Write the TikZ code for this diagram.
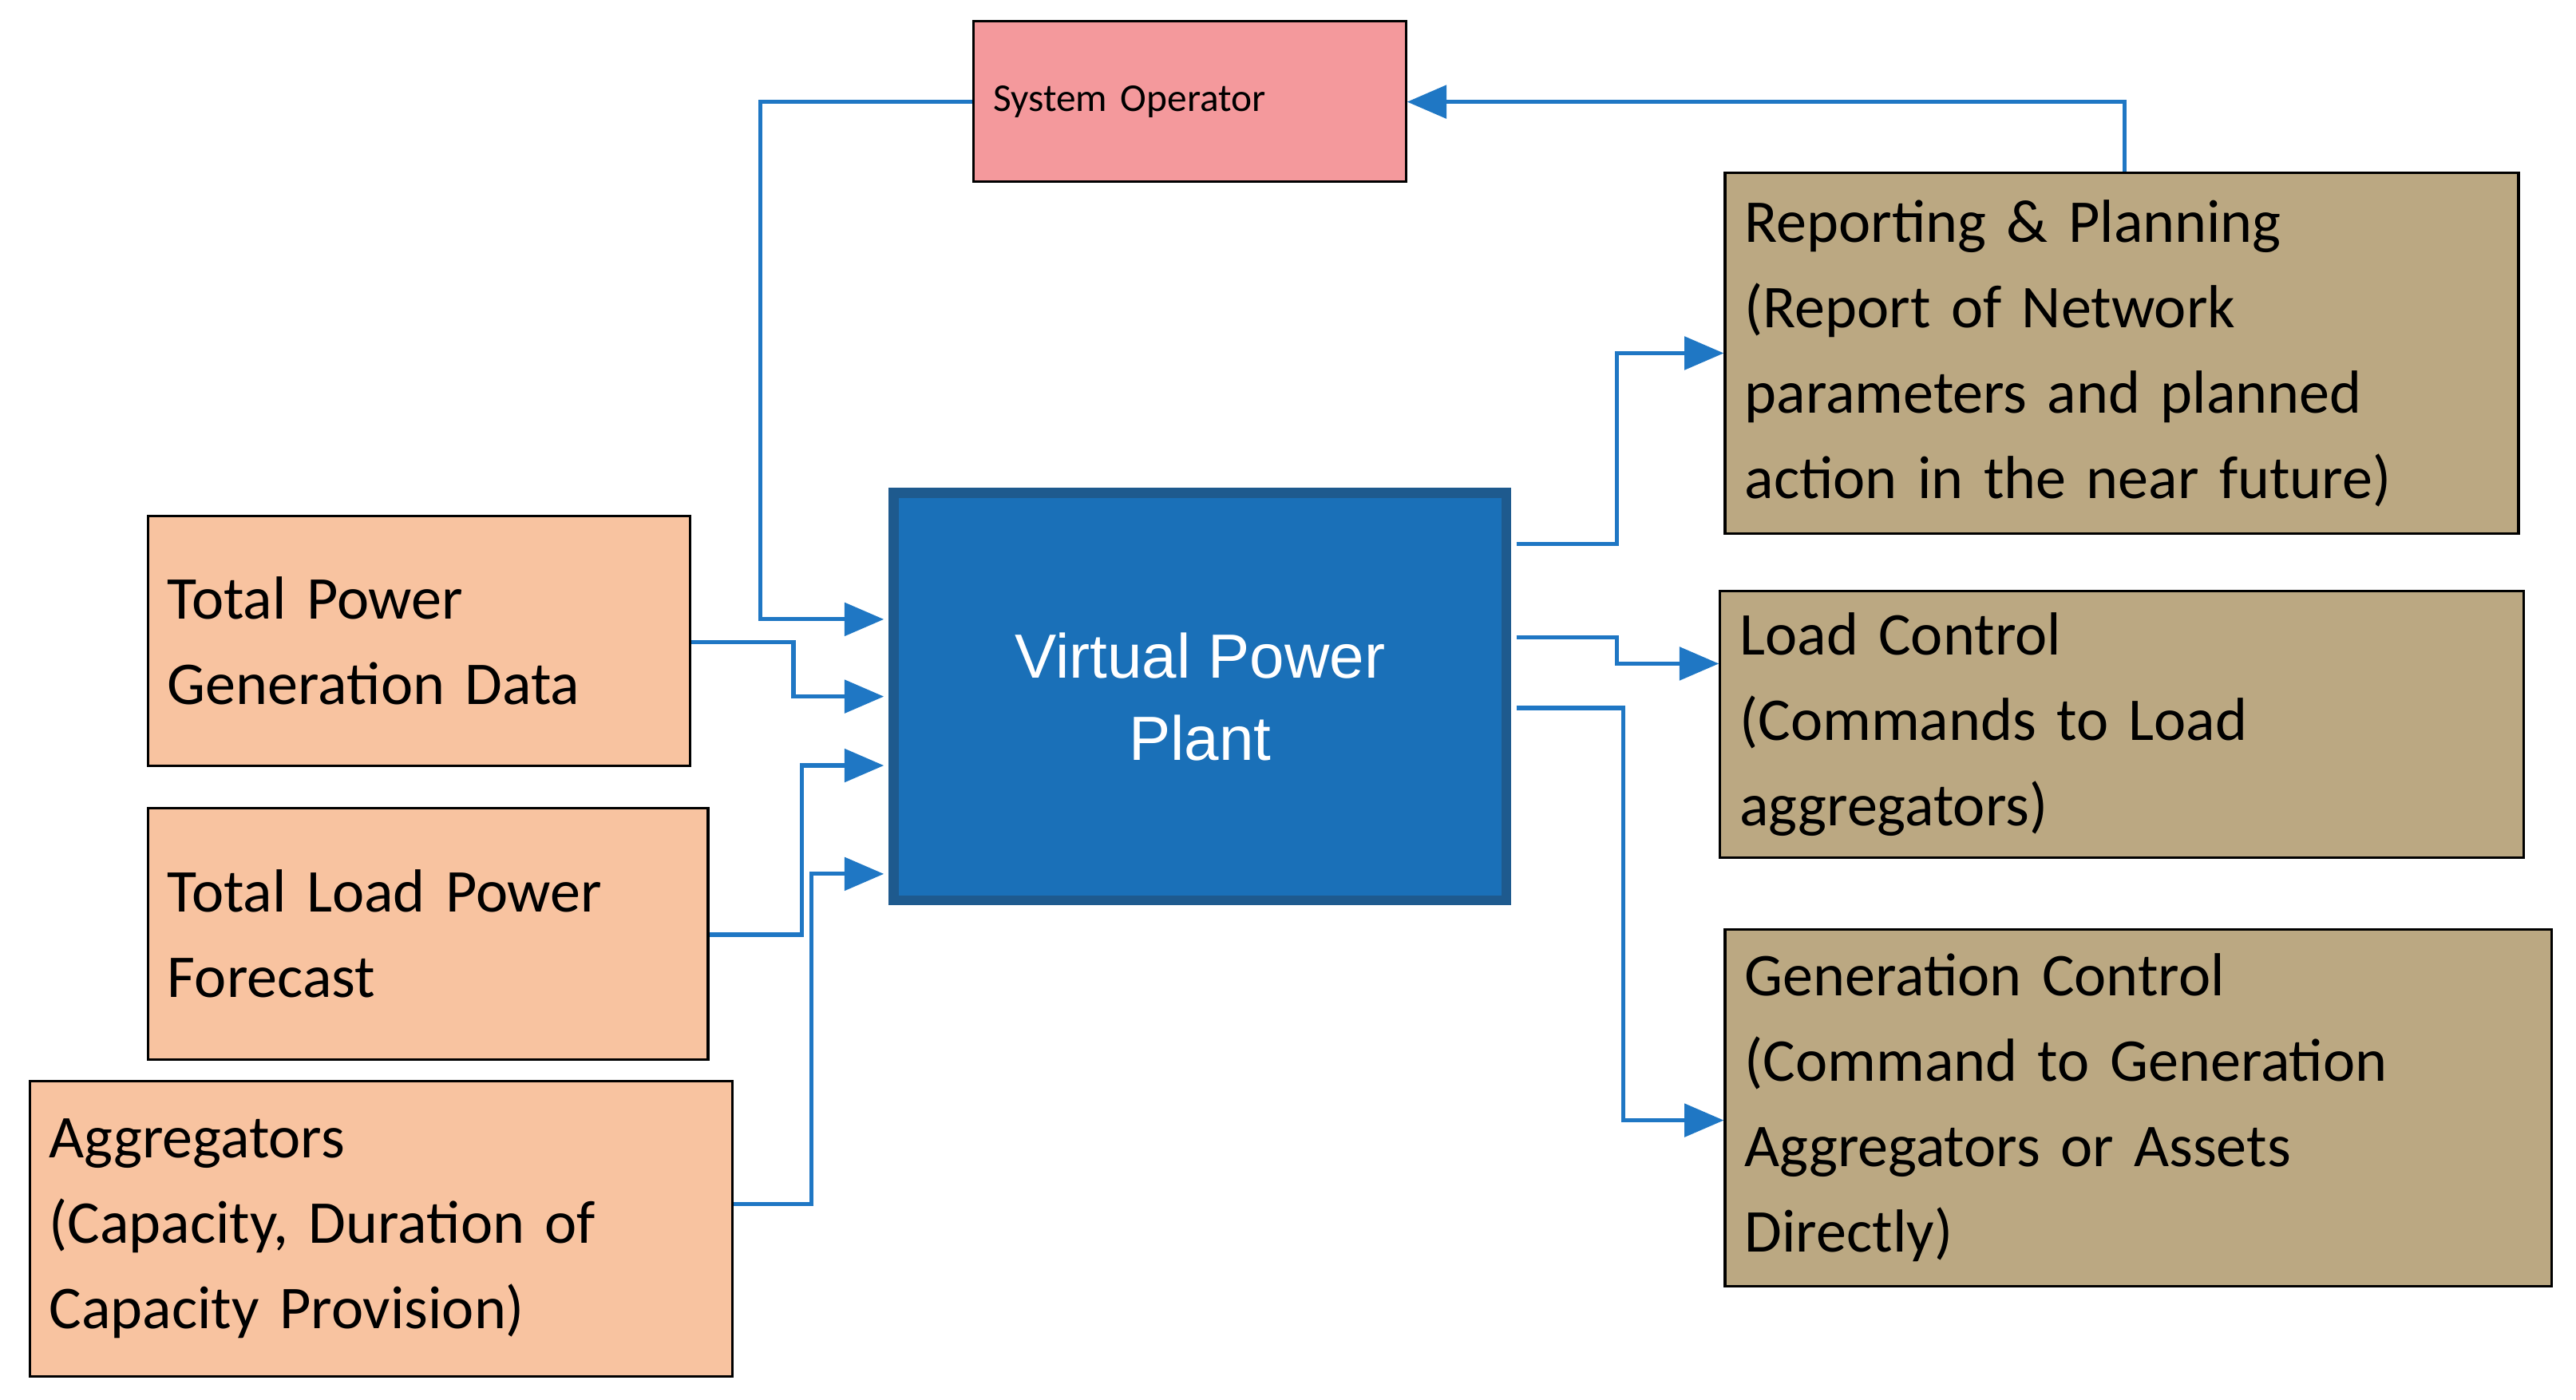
\documentclass[tikz,border=0pt]{standalone}
\usepackage{fontspec}
\setmainfont{Carlito}
\newfontfamily\arialf{Liberation Sans}
\usetikzlibrary{arrows.meta}
\definecolor{orng}{HTML}{F8C3A0}
\definecolor{pinkb}{HTML}{F4999C}
\definecolor{tanb}{HTML}{BBA882}
\definecolor{ablue}{HTML}{1F77C4}
\definecolor{vfill}{HTML}{1A70B8}
\definecolor{vdraw}{HTML}{1E5A8E}
\begin{document}
\begin{tikzpicture}[x=1pt,y=-1pt,
 box/.style={draw=black,line width=1.5pt,align=left,inner xsep=12pt,font=\fontsize{37}{52}\selectfont},
 arr/.style={draw=ablue,line width=2.5pt,-{Triangle[length=24pt,width=20pt]}}]
\useasboundingbox (0,0) rectangle (1568,852);
\node[box,fill=pinkb,minimum width=263pt,minimum height=98pt,text width=239pt,font=\fontsize{24}{28}\selectfont,anchor=north west,inner ysep=16pt] (so) at (592,12) {System Operator};
\node[box,fill=tanb,minimum width=483pt,minimum height=220pt,text width=459pt] (rp) at (1291.5,215) {Reporting \& Planning\\(Report of Network\\parameters and planned\\action in the near future)};
\node[box,fill=tanb,minimum width=489pt,minimum height=162pt,text width=465pt] (lc) at (1291.5,441) {Load Control\\(Commands to Load\\aggregators)};
\node[box,fill=tanb,minimum width=503pt,minimum height=217pt,text width=479pt] (gc) at (1301.5,674.5) {Generation Control\\(Command to Generation\\Aggregators or Assets\\Directly)};
\node[draw=vdraw,fill=vfill,line width=6pt,minimum width=373pt,minimum height=248pt,text=white,align=center,font=\arialf\fontsize{38}{50}\selectfont] (vpp) at (730.5,424) {Virtual Power\\Plant};
\node[box,fill=orng,minimum width=330pt,minimum height=152pt,text width=306pt] (tpg) at (255,390) {Total Power\\Generation Data};
\node[box,fill=orng,minimum width=341pt,minimum height=153pt,text width=317pt] (tlp) at (260.5,568.5) {Total Load Power\\Forecast};
\node[box,fill=orng,minimum width=428pt,minimum height=180pt,text width=404pt] (agg) at (232,748) {Aggregators\\(Capacity, Duration of\\Capacity Provision)};
\coordinate (v1) at (538,377);\coordinate (v2) at (538,424);\coordinate (v3) at (538,466);\coordinate (v4) at (538,532);
\draw[arr] (so.west |- 0,62) -- (463,62) -- (463,377) -- (v1);
\draw[arr] (tpg.east |- 0,391) -- (483,391) -- (483,424) -- (v2);
\draw[arr] (tlp.east |- 0,569) -- (488,569) -- (488,466) -- (v3);
\draw[arr] (agg.east |- 0,733) -- (494,733) -- (494,532) -- (v4);
\draw[arr] (923,331) -- (984,331) -- (984,215) -- (rp.west);
\draw[arr] (923,388) -- (984,388) -- (984,404) -- (lc.west |- 0,404);
\draw[arr] (923,431) -- (988,431) -- (988,682) -- (gc.west |- 0,682);
\draw[arr] (rp.north -| 1293,0) -- (1293,62) -- (so.east |- 0,62);
\end{tikzpicture}
\end{document}
